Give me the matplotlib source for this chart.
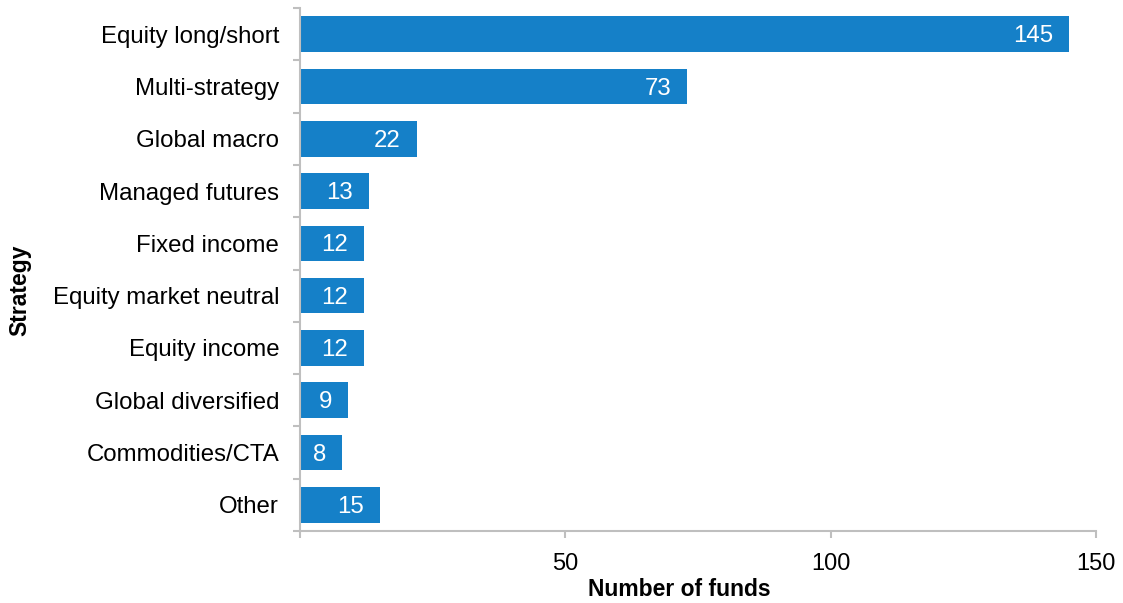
import matplotlib
matplotlib.use("Agg")
import matplotlib.pyplot as plt
import numpy as np

plt.rcParams['font.family'] = ['Liberation Sans', 'DejaVu Sans']

strategies = ["Equity long/short", "Multi-strategy", "Global macro", "Managed futures",
              "Fixed income", "Equity market neutral", "Equity income",
              "Global diversified", "Commodities/CTA", "Other"]
fund_counts = [145, 73, 22, 13, 12, 12, 12, 9, 8, 15]
x_ticks = [0, 50, 100, 150]
x_tick_labels = ["", "50", "100", "150"]

W, H = 1123, 603
fig = plt.figure(figsize=(W / 100, H / 100), dpi=100)
ax = fig.add_axes([300 / W, 1 - 531 / H, 796 / W, 523 / H])

bar_color = "#1580C8"
axis_grey = "#BFBFBF"

y = np.arange(len(strategies))
ax.barh(y, fund_counts, height=0.68, color=bar_color)

for yi, v in zip(y, fund_counts):
    ax.annotate(str(v), xy=(v, yi), xytext=(-11.5, -1.5), textcoords="offset points",
                ha="right", va="center", color="white", fontsize=17.3)

ax.set_xlim(0, 150)
ax.set_ylim(len(strategies) - 0.5, -0.5)

ax.set_xticks(x_ticks)
ax.set_xticklabels(x_tick_labels, fontsize=17)
ax.tick_params(axis="x", direction="out", length=5, width=1.5, color=axis_grey, pad=11)

ax.set_yticks(y)
ax.set_yticklabels(strategies, fontsize=17.3)
ax.tick_params(axis="y", which="major", length=0, pad=15)
ax.set_yticks(np.arange(-0.5, len(strategies), 1), minor=True)
ax.tick_params(axis="y", which="minor", direction="out", length=5, width=1.5, color=axis_grey)

for side in ("top", "right"):
    ax.spines[side].set_visible(False)
for side in ("left", "bottom"):
    ax.spines[side].set_color(axis_grey)
    ax.spines[side].set_linewidth(1.5)

fig.text(679 / W, 1 - 590 / H, "Number of funds", ha="center", va="center",
         fontsize=16.5, fontweight="bold")
fig.text(20 / W, 1 - 290 / H, "Strategy", ha="center", va="center", rotation=90,
         fontsize=16.5, fontweight="bold")

fig.savefig("out.png", dpi=100)
